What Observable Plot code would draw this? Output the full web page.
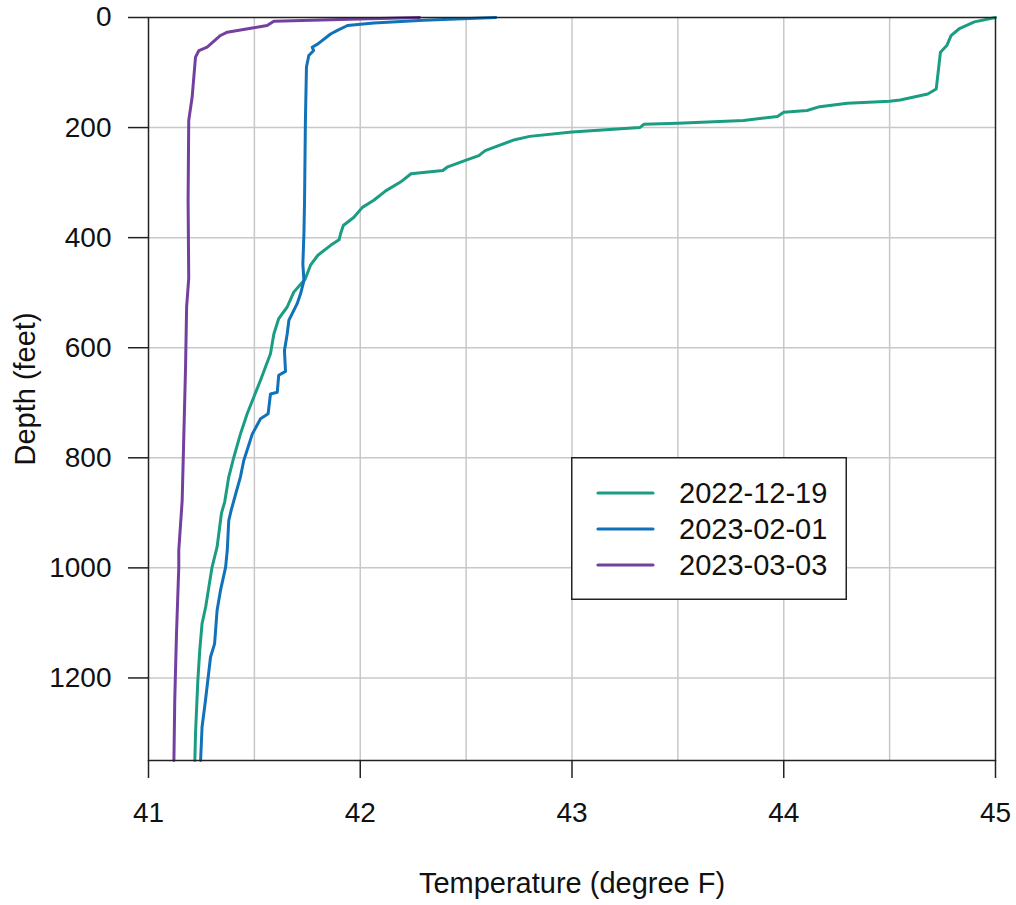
<!DOCTYPE html>
<html>
<head>
<meta charset="utf-8">
<script src="https://cdn.jsdelivr.net/npm/d3@7"></script>
<script src="https://cdn.jsdelivr.net/npm/@observablehq/plot@0.6"></script>
<style>
  html, body { margin: 0; padding: 0; background: #fff; }
  #wrap { position: relative; width: 1016px; height: 905px; font-family: "Liberation Sans", Arial, sans-serif; }
  #legend { position: absolute; left: 571px; top: 457px; }
</style>
</head>
<body>
<div id="wrap"><div id="chart"></div><div id="legend"></div></div>
<script>
// ---- data ----
const seriesNames = ["2022-12-19", "2023-02-01", "2023-03-03"];
const seriesColors = ["#1b9d81", "#1172b9", "#7440a0"];

const temp20221219 = [45.0, 44.9, 44.83, 44.79, 44.77, 44.74, 44.72, 44.68, 44.55, 44.5, 44.3, 44.17, 44.11, 44.0, 43.97, 43.81, 43.5, 43.34, 43.32, 43.0, 42.8, 42.73, 42.59, 42.56, 42.5, 42.41, 42.39, 42.24, 42.19, 42.12, 42.064, 42.01, 41.97, 41.92, 41.907, 41.9, 41.86, 41.8, 41.765, 41.74, 41.686, 41.655, 41.615, 41.592, 41.576, 41.529, 41.497, 41.466, 41.434, 41.403, 41.379, 41.36, 41.345, 41.34, 41.324, 41.3, 41.27, 41.253, 41.242, 41.233, 41.222, 41.219];
const depth20221219 = [0, 8, 20, 33, 51, 63, 130, 139, 150, 152, 156, 162, 169, 172, 180, 187, 192, 194, 200, 208, 216, 222, 242, 251, 259, 272, 278, 284, 299, 315, 332, 345, 363, 378, 393, 404, 414, 432, 450, 475, 499, 526, 547, 575, 611, 659, 690, 720, 757, 799, 835, 880, 900, 914, 962, 999, 1071, 1101, 1150, 1205, 1301, 1350];

const temp20230201 = [42.64, 42.3, 42.064, 41.94, 41.89, 41.86, 41.8, 41.773, 41.78, 41.757, 41.746, 41.741, 41.737, 41.734, 41.729, 41.734, 41.718, 41.702, 41.663, 41.655, 41.642, 41.647, 41.615, 41.608, 41.576, 41.565, 41.529, 41.49, 41.45, 41.434, 41.41, 41.39, 41.379, 41.372, 41.364, 41.34, 41.324, 41.312, 41.293, 41.269, 41.253, 41.246];
const depth20230201 = [0, 5, 10, 14.5, 24, 30, 48, 54, 60, 69, 90, 187, 332, 393, 448, 478, 502, 520, 550, 575, 605, 643, 650, 681, 684, 720, 729, 757, 805, 835, 868, 896, 914, 968, 999, 1041, 1077, 1138, 1162, 1241, 1289, 1350];

const temp20230303 = [42.28, 41.907, 41.592, 41.56, 41.497, 41.372, 41.34, 41.277, 41.238, 41.222, 41.206, 41.19, 41.187, 41.19, 41.18, 41.175, 41.167, 41.159, 41.143, 41.143, 41.132, 41.124, 41.12];
const depth20230303 = [0, 3.6, 6.7, 14.5, 18.8, 26.7, 32.7, 54, 60, 72, 145, 187, 332, 474, 526, 635, 757, 878, 968, 999, 1122, 1241, 1350];

const xTicks = [41, 42, 43, 44, 45];
const xGrid = [41.5, 42, 42.5, 43, 43.5, 44, 44.5];
const yTicks = [0, 200, 400, 600, 800, 1000, 1200];
const xTitle = "Temperature (degree F)";
const yTitle = "Depth (feet)";

// ---- build table ----
const temps = [temp20221219, temp20230201, temp20230303];
const depths = [depth20221219, depth20230201, depth20230303];
const rows = [];
seriesNames.forEach((name, i) => {
  temps[i].forEach((t, j) => rows.push({series: name, temp: t, depth: depths[i][j]}));
});

const chart = Plot.plot({
  width: 1016,
  height: 905,
  marginLeft: 148,
  marginRight: 21,
  marginTop: 17,
  marginBottom: 145,
  style: {fontFamily: '"Liberation Sans", Arial, sans-serif', fontSize: "28px", color: "#111", background: "#fff"},
  x: {domain: [41, 45]},
  y: {domain: [0, 1350], reverse: true},
  color: {domain: seriesNames, range: seriesColors},
  marks: [
    Plot.ruleX(xGrid, {stroke: "#c8c8c8", strokeWidth: 1.5}),
    Plot.ruleY(yTicks.filter(d => d > 0), {stroke: "#c8c8c8", strokeWidth: 1.5}),
    Plot.line(rows, {x: "temp", y: "depth", z: "series", stroke: "series", strokeWidth: 3, strokeLinejoin: "round"}),
    Plot.frame({stroke: "#222", strokeWidth: 1.5}),
    Plot.axisX({ticks: xTicks, tickSize: 18, tickPadding: 24, label: null, stroke: "#222", strokeWidth: 1.5, tickFormat: d => String(d)}),
    Plot.axisY({ticks: yTicks, tickSize: 20, tickPadding: 17, label: null, stroke: "#222", strokeWidth: 1.5, tickFormat: d => String(d)}),
    Plot.text([xTitle], {frameAnchor: "bottom", dy: 123, textAnchor: "middle", lineAnchor: "middle", text: d => d, fontSize: 29, fill: "#111"}),
    Plot.text([yTitle], {frameAnchor: "left", dx: -123, rotate: -90, textAnchor: "middle", lineAnchor: "middle", text: d => d, fontSize: 29, fill: "#111"})
  ]
});
document.getElementById("chart").appendChild(chart);

// ---- legend ----
const W = 276, H = 143;
const lg = d3.select("#legend").append("svg").attr("width", W).attr("height", H)
  .style("font-family", '"Liberation Sans", Arial, sans-serif');
lg.append("rect").attr("x", 0.75).attr("y", 0.75).attr("width", W - 1.5).attr("height", H - 1.5)
  .attr("fill", "#fff").attr("stroke", "#222").attr("stroke-width", 1.5);
seriesNames.forEach((name, i) => {
  const yy = 36 + i * 36;
  lg.append("line").attr("x1", 27).attr("x2", 82).attr("y1", yy).attr("y2", yy)
    .attr("stroke", seriesColors[i]).attr("stroke-width", 3.2).attr("stroke-linecap", "round");
  lg.append("text").attr("x", 108).attr("y", yy).attr("dy", "0.35em")
    .attr("font-size", 29).attr("fill", "#111").text(name);
});
</script>
</body>
</html>
